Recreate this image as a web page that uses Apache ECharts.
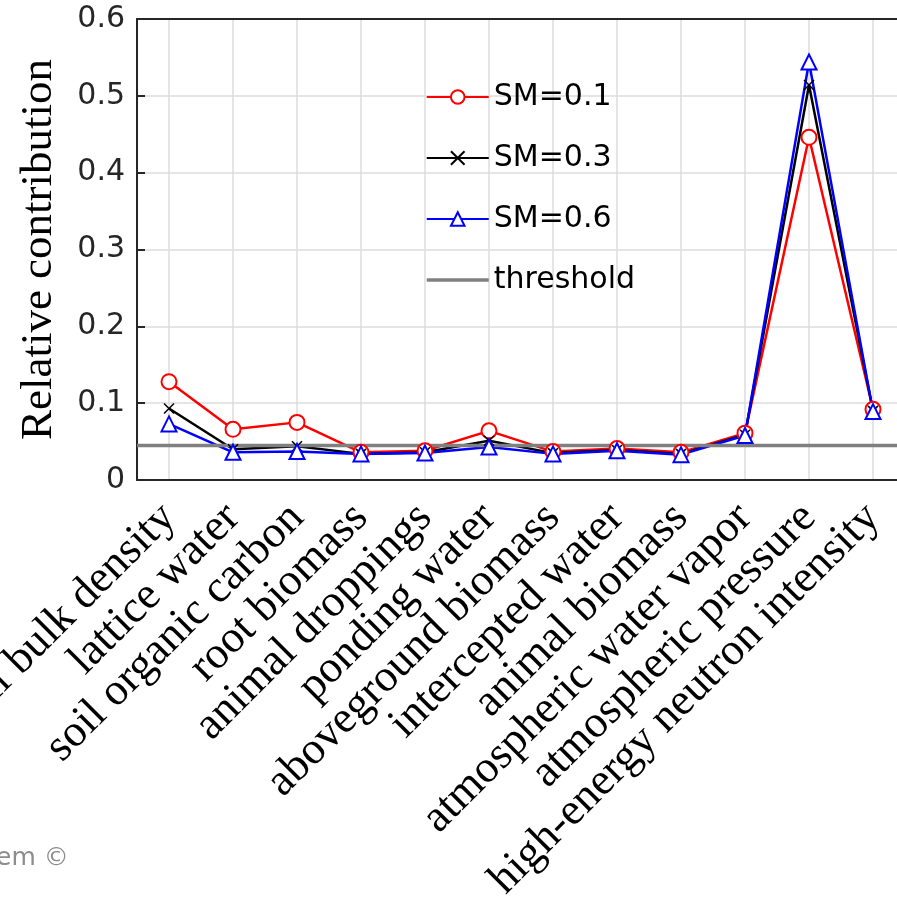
<!DOCTYPE html>
<html>
<head>
<meta charset="utf-8">
<script src="https://cdn.jsdelivr.net/npm/echarts@6/dist/echarts.min.js"></script>
<style>
  html, body { margin: 0; padding: 0; background: #fff; }
  #chart { width: 897px; height: 902px; }
</style>
</head>
<body>
<div id="chart"></div>
<script>
const categories = [
  'soil bulk density', 'lattice water', 'soil organic carbon', 'root biomass',
  'animal droppings', 'ponding water', 'aboveground biomass', 'intercepted water',
  'animal biomass', 'atmospheric water vapor', 'atmospheric pressure', 'high-energy neutron intensity'
]
const sm01 = [0.128, 0.066, 0.075, 0.036, 0.038, 0.064, 0.037, 0.041, 0.036, 0.061, 0.446, 0.092]
const sm03 = [0.093, 0.040, 0.044, 0.034, 0.036, 0.051, 0.035, 0.039, 0.034, 0.059, 0.514, 0.090]
const sm06 = [0.073, 0.036, 0.037, 0.034, 0.035, 0.043, 0.034, 0.038, 0.033, 0.058, 0.544, 0.089]
const threshold = 0.045
const yTicks = [0, 0.1, 0.2, 0.3, 0.4, 0.5, 0.6]

const AXIS = '#262626'
const GRID = '#dcdcdc'
const SANS = 'DejaVu Sans'
const SERIF = 'Liberation Serif'
const crossPath = 'path://M0,0L10,10M10,0L0,10'

const chart = echarts.init(document.getElementById('chart'))

chart.setOption({
  animation: false,
  backgroundColor: '#fff',
  grid: { left: 137, right: -8, top: 19, bottom: 422, containLabel: false, outerBoundsMode: 'none' },
  legend: {
    orient: 'vertical',
    left: 425,
    top: 82,
    padding: 0,
    itemWidth: 62,
    itemHeight: 17,
    itemGap: 31,
    textStyle: { fontFamily: SANS, fontSize: 30, color: '#000', lineHeight: 30 },
    data: [
      'SM=0.1', 'SM=0.3', 'SM=0.6',
      { name: 'threshold', itemStyle: { color: 'rgba(0,0,0,0)', borderWidth: 0 }, lineStyle: { width: 3.5 } }
    ]
  },
  xAxis: [
    {
      type: 'category',
      data: categories,
      boundaryGap: true,
      axisLine: { lineStyle: { color: AXIS, width: 2 } },
      axisTick: { inside: true, alignWithLabel: true, length: 13, lineStyle: { color: AXIS, width: 2 } },
      splitLine: { show: true, alignWithLabel: true, lineStyle: { color: GRID, width: 1.5 } },
      axisLabel: {
        rotate: 45, interval: 0, margin: 31,
        fontFamily: SERIF, fontSize: 45, color: '#000'
      }
    },
    {
      type: 'category',
      data: categories,
      position: 'top',
      boundaryGap: true,
      axisLine: { lineStyle: { color: AXIS, width: 2 } },
      axisTick: { inside: true, alignWithLabel: true, length: 13, lineStyle: { color: AXIS, width: 2 } },
      splitLine: { show: false },
      axisLabel: { show: false }
    },
    // hidden 0..1 axis so the threshold spans the whole plot width
    { type: 'value', min: 0, max: 1, show: false }
  ],
  yAxis: {
    type: 'value',
    min: yTicks[0],
    max: yTicks[yTicks.length - 1],
    interval: 0.1,
    name: 'Relative contribution',
    nameLocation: 'middle',
    nameGap: 75,
    nameTextStyle: { fontFamily: SERIF, fontSize: 45, color: '#000' },
    axisLine: { show: true, lineStyle: { color: AXIS, width: 2 } },
    axisTick: { show: true, inside: true, length: 8, lineStyle: { color: AXIS, width: 2 } },
    splitLine: { lineStyle: { color: GRID, width: 1.5 } },
    axisLabel: {
      margin: 12, fontFamily: SANS, fontSize: 30, color: AXIS,
      formatter: v => (v === 0 ? '0' : v.toFixed(1))
    }
  },
  series: [
    {
      name: 'SM=0.1', type: 'line', data: sm01,
      symbol: 'emptyCircle', symbolSize: 15,
      lineStyle: { color: '#ff0000', width: 2.5 },
      itemStyle: { color: '#ff0000', borderWidth: 1.8 }
    },
    {
      name: 'SM=0.3', type: 'line', data: sm03,
      symbol: crossPath, symbolSize: 10,
      lineStyle: { color: '#000', width: 2.5 },
      itemStyle: { color: '#000', borderColor: '#000', borderWidth: 1.5 }
    },
    {
      name: 'SM=0.6', type: 'line', data: sm06,
      symbol: 'emptyTriangle', symbolSize: 15,
      lineStyle: { color: '#0000ff', width: 2.5 },
      itemStyle: { color: '#0000ff', borderWidth: 1.8 }
    },
    {
      name: 'threshold', type: 'line', xAxisIndex: 2,
      data: [[0, threshold], [1, threshold]],
      symbol: 'none', silent: true,
      lineStyle: { color: '#808080', width: 3.5 },
      itemStyle: { color: '#808080' }
    }
  ],
  graphic: [
    {
      type: 'text', left: -4, top: 846,
      style: { text: 'em ©', fontFamily: SANS, fontSize: 25, fill: '#8c8c8c' }
    }
  ]
})
</script>
</body>
</html>
